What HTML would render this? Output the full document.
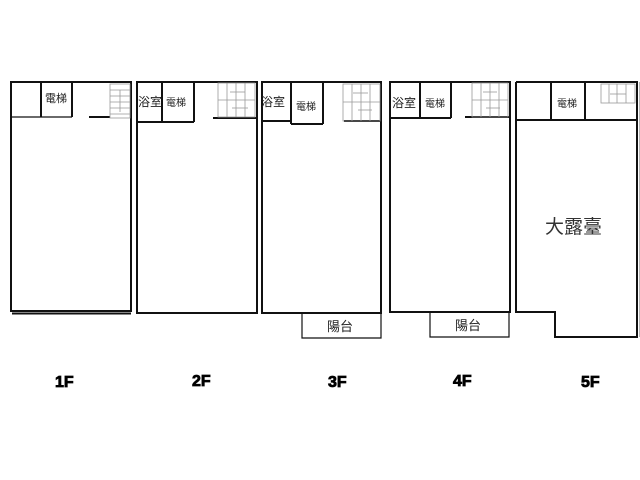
<!DOCTYPE html>
<html><head><meta charset="utf-8"><style>
html,body{margin:0;padding:0;background:#fff;}
svg{display:block}
text{font-family:"Liberation Sans","Noto Sans CJK TC",sans-serif;}
.w{fill:none;stroke:#111;stroke-width:2}
.t{fill:none;stroke:#111;stroke-width:1.2}
.s{fill:none;stroke:#999;stroke-width:0.8}
.lbl{font-size:11px;fill:#222}
.fl{font-size:16px;font-weight:bold;fill:#000;stroke:#000;stroke-width:0.8}
</style></head><body>
<svg width="640" height="480" viewBox="0 0 640 480" xmlns="http://www.w3.org/2000/svg">
<!-- 1F -->
<rect class="w" x="11" y="82" width="120" height="229"/>
<line class="w" x1="12" y1="313.5" x2="131" y2="313.5"/>
<line class="t" x1="11" y1="117" x2="72" y2="117"/>
<line class="w" x1="41" y1="82" x2="41" y2="117"/>
<line class="w" x1="72" y1="82" x2="72" y2="117"/>
<line class="w" x1="89" y1="117" x2="110" y2="117"/>
<g class="s"><rect x="110" y="84" width="20" height="34"/>
<line x1="110" y1="90" x2="130" y2="90"/><line x1="110" y1="96" x2="130" y2="96"/><line x1="110" y1="102" x2="130" y2="102"/><line x1="110" y1="108" x2="130" y2="108"/><line x1="110" y1="114" x2="130" y2="114"/><line x1="120" y1="90" x2="120" y2="112"/></g>
<text class="lbl" x="45" y="102">電梯</text>
<!-- 2F -->
<rect class="w" x="137" y="82" width="120" height="231"/>
<line class="w" x1="137" y1="122" x2="194" y2="122"/>
<line class="w" x1="162" y1="82" x2="162" y2="122"/>
<line class="w" x1="194" y1="82" x2="194" y2="122"/>
<line class="w" x1="213" y1="118" x2="256" y2="118"/>
<g class="s"><rect x="218" y="83" width="37" height="34"/>
<line x1="227" y1="83" x2="227" y2="117"/><line x1="236" y1="83" x2="236" y2="117"/><line x1="245" y1="83" x2="245" y2="117"/><line x1="218" y1="100" x2="255" y2="100"/><line x1="230" y1="92" x2="245" y2="92"/><line x1="232" y1="108" x2="248" y2="108"/></g>
<text class="lbl" x="138" y="106" style="font-size:12px">浴室</text>
<text class="lbl" x="166" y="106" style="font-size:10px">電梯</text>
<!-- 3F -->
<rect class="w" x="262" y="82" width="119" height="231"/>
<line class="w" x1="262" y1="121" x2="291" y2="121"/>
<line class="w" x1="291" y1="82" x2="291" y2="124"/>
<line class="w" x1="291" y1="124" x2="323" y2="124"/>
<line class="w" x1="323" y1="82" x2="323" y2="124"/>
<line class="w" x1="344" y1="121" x2="380" y2="121"/>
<g class="s"><rect x="343" y="84" width="37" height="37"/>
<line x1="352" y1="84" x2="352" y2="121"/><line x1="361" y1="84" x2="361" y2="121"/><line x1="370" y1="84" x2="370" y2="121"/><line x1="343" y1="102" x2="380" y2="102"/><line x1="353" y1="93" x2="368" y2="93"/><line x1="358" y1="110" x2="372" y2="110"/></g>
<text class="lbl" x="261" y="106" style="font-size:12px">浴室</text>
<text class="lbl" x="296" y="110" style="font-size:10px">電梯</text>
<polyline class="t" points="302,313 302,338 381,338 381,313"/>
<text class="lbl" x="327" y="331" style="font-size:13px">陽台</text>
<!-- 4F -->
<rect class="w" x="390" y="82" width="120" height="230"/>
<line class="w" x1="390" y1="118" x2="451" y2="118"/>
<line class="w" x1="420" y1="82" x2="420" y2="118"/>
<line class="w" x1="451" y1="82" x2="451" y2="118"/>
<line class="w" x1="465" y1="117" x2="509" y2="117"/>
<g class="s"><rect x="472" y="83" width="36" height="34"/>
<line x1="481" y1="83" x2="481" y2="117"/><line x1="490" y1="83" x2="490" y2="117"/><line x1="499" y1="83" x2="499" y2="117"/><line x1="472" y1="100" x2="508" y2="100"/><line x1="483" y1="92" x2="497" y2="92"/><line x1="486" y1="108" x2="500" y2="108"/></g>
<text class="lbl" x="392" y="107" style="font-size:12px">浴室</text>
<text class="lbl" x="425" y="107" style="font-size:10px">電梯</text>
<polyline class="t" points="430,312 430,337 509,337 509,312"/>
<text class="lbl" x="455" y="330" style="font-size:13px">陽台</text>
<!-- 5F -->
<polyline class="w" points="516,82 637,82 637,337 555,337 555,312 516,312 516,82"/>
<line class="t" x1="640" y1="82" x2="640" y2="337" style="stroke:#888"/>
<line class="w" x1="516" y1="120" x2="637" y2="120"/>
<line class="w" x1="551" y1="82" x2="551" y2="120"/>
<line class="w" x1="585" y1="82" x2="585" y2="120"/>
<g class="s"><rect x="601" y="84" width="34" height="19"/>
<line x1="609" y1="84" x2="609" y2="103"/><line x1="617" y1="84" x2="617" y2="103"/><line x1="626" y1="84" x2="626" y2="103"/><line x1="610" y1="94" x2="626" y2="94"/></g>
<text class="lbl" x="557" y="107" style="font-size:10px">電梯</text>
<text x="545" y="233" style="font-size:19px;fill:#333;font-family:'Liberation Sans','Noto Sans CJK TC',sans-serif">大露臺</text>
<!-- labels -->
<text class="fl" x="55" y="387">1F</text>
<text class="fl" x="192" y="386">2F</text>
<text class="fl" x="328" y="387">3F</text>
<text class="fl" x="453" y="386">4F</text>
<text class="fl" x="581" y="387">5F</text>
</svg>
</body></html>
